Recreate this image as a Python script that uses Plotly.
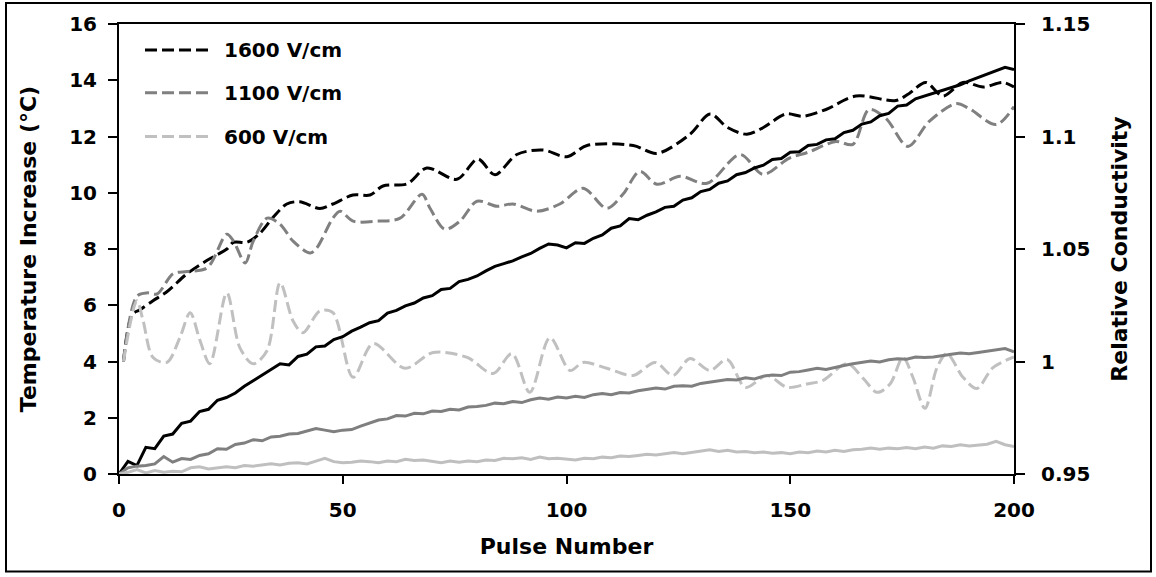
import plotly.graph_objects as go

# ---------------- data ----------------
pulses = list(range(0, 201, 2))

temp_1600 = [0.00, 0.45, 0.30, 0.95, 0.90, 1.35, 1.42, 1.80, 1.88, 2.22,
             2.30, 2.62, 2.72, 2.88, 3.12, 3.32, 3.52, 3.70, 3.92, 3.88,
             4.18, 4.26, 4.52, 4.55, 4.78, 4.88, 5.08, 5.22, 5.38, 5.45,
             5.72, 5.82, 5.98, 6.08, 6.26, 6.34, 6.56, 6.60, 6.84, 6.92,
             7.04, 7.22, 7.38, 7.48, 7.58, 7.72, 7.84, 8.02, 8.18, 8.14,
             8.04, 8.22, 8.20, 8.38, 8.50, 8.74, 8.82, 9.08, 9.04, 9.20,
             9.32, 9.48, 9.52, 9.74, 9.82, 10.04, 10.12, 10.34, 10.42, 10.64,
             10.72, 10.88, 10.98, 11.18, 11.22, 11.44, 11.46, 11.68, 11.72, 11.88,
             11.92, 12.14, 12.22, 12.44, 12.52, 12.74, 12.82, 13.08, 13.12, 13.34,
             13.44, 13.56, 13.64, 13.76, 13.84, 13.98, 14.10, 14.22, 14.34, 14.46,
             14.38]

temp_1100 = [0.00, 0.22, 0.28, 0.30, 0.36, 0.62, 0.42, 0.55, 0.52, 0.66,
             0.72, 0.90, 0.88, 1.05, 1.10, 1.22, 1.18, 1.32, 1.34, 1.42,
             1.44, 1.52, 1.62, 1.56, 1.50, 1.56, 1.58, 1.70, 1.80, 1.92,
             1.96, 2.08, 2.06, 2.16, 2.14, 2.24, 2.22, 2.30, 2.28, 2.38,
             2.40, 2.44, 2.52, 2.50, 2.58, 2.54, 2.64, 2.70, 2.66, 2.74,
             2.70, 2.76, 2.72, 2.82, 2.86, 2.82, 2.90, 2.88, 2.96, 3.00,
             3.06, 3.02, 3.12, 3.14, 3.12, 3.22, 3.26, 3.32, 3.36, 3.34,
             3.42, 3.38, 3.48, 3.52, 3.50, 3.62, 3.64, 3.70, 3.76, 3.72,
             3.80, 3.86, 3.92, 3.96, 4.02, 3.98, 4.06, 4.10, 4.08, 4.16,
             4.14, 4.16, 4.22, 4.26, 4.30, 4.28, 4.32, 4.36, 4.42, 4.46,
             4.34]

temp_600 = [0.00, 0.06, 0.16, 0.04, 0.12, 0.06, 0.10, 0.08, 0.22, 0.26,
            0.18, 0.22, 0.26, 0.22, 0.30, 0.28, 0.32, 0.36, 0.32, 0.38,
            0.40, 0.36, 0.46, 0.56, 0.44, 0.40, 0.42, 0.46, 0.44, 0.40,
            0.46, 0.44, 0.52, 0.48, 0.50, 0.44, 0.40, 0.46, 0.42, 0.46,
            0.44, 0.50, 0.48, 0.56, 0.54, 0.58, 0.52, 0.60, 0.54, 0.56,
            0.52, 0.50, 0.56, 0.54, 0.60, 0.58, 0.64, 0.62, 0.66, 0.70,
            0.68, 0.72, 0.76, 0.72, 0.76, 0.82, 0.86, 0.80, 0.84, 0.78,
            0.80, 0.76, 0.78, 0.74, 0.76, 0.72, 0.78, 0.76, 0.82, 0.78,
            0.84, 0.80, 0.86, 0.88, 0.92, 0.88, 0.92, 0.90, 0.94, 0.90,
            0.96, 0.92, 1.00, 0.98, 1.04, 1.00, 1.02, 1.06, 1.16, 1.04,
            0.98]

cond_1600_x = [1, 3, 4.7, 7.6, 10.7, 15.2, 19.7, 24.1, 25.6, 28.6, 31.5, 34.4,
               37.5, 40.4, 44.9, 47.8, 52.3, 56.1, 59, 64.4, 68.8, 75.5, 80.2,
               84, 88.9, 94.7, 100.1, 104.6, 114.9, 120.2, 127.6, 132.1, 136,
               140.3, 144, 149, 152.8, 158, 164.7, 173.6, 176.5, 180.3, 184.1,
               188.6, 193.1, 197.5, 200]
cond_1600 = [1.000, 1.021, 1.023, 1.027, 1.031, 1.039, 1.045, 1.050, 1.053, 1.053,
             1.057, 1.064, 1.070, 1.071, 1.068, 1.070, 1.074, 1.074, 1.078, 1.079,
             1.086, 1.081, 1.090, 1.083, 1.092, 1.094, 1.091, 1.096, 1.096, 1.0925,
             1.101, 1.110, 1.104, 1.101, 1.104, 1.110, 1.109, 1.112, 1.118, 1.116,
             1.119, 1.124, 1.118, 1.124, 1.122, 1.124, 1.122]

cond_1100_x = [1, 4, 6.3, 8.5, 12.1, 15.2, 19.7, 24.1, 25.6, 28.2, 30, 33.1, 36,
               38.9, 42.7, 44.2, 47.8, 49.4, 52.3, 58, 62.8, 67.7, 69.5, 72.8,
               76.2, 80, 84.5, 88, 93.4, 98.5, 103.7, 109, 112.6, 116.4, 120.2,
               125.4, 131.4, 138.8, 143.9, 149.7, 154, 160.2, 164, 167.6, 171.4,
               176.3, 181, 187, 190, 196, 200]
cond_1100 = [1.000, 1.029, 1.0305, 1.030, 1.039, 1.040, 1.0416, 1.0566, 1.0535,
             1.0438, 1.0535, 1.0637, 1.061, 1.0535, 1.0482, 1.0505, 1.0637, 1.0668,
             1.0624, 1.0624, 1.0637, 1.0743, 1.0681, 1.0588, 1.0624, 1.0712, 1.069,
             1.070, 1.0668, 1.070, 1.077, 1.0681, 1.0743, 1.0845, 1.0788, 1.0823,
             1.0792, 1.092, 1.0832, 1.0903, 1.093, 1.0978, 1.0965, 1.112, 1.108,
             1.0956, 1.1066, 1.1146, 1.1124, 1.1053, 1.1133]

cond_600_x = [1, 4, 5.4, 7.6, 10.7, 13.6, 15.9, 18.1, 20.3, 24.1, 27, 30, 33.1,
              36, 38.9, 41.1, 44.9, 47.8, 52.3, 56.8, 63.9, 70.2, 77.8, 83.6,
              87.8, 91.8, 96.3, 100.8, 103.7, 109, 114.9, 119.8, 123.8, 127.6,
              132, 135.9, 140, 144.8, 149.3, 153.7, 157.3, 162.7, 166.3, 169.4,
              172.3, 175.2, 177.4, 180.1, 182.8, 185, 188.6, 191.7, 195.3, 200]
cond_600 = [1.000, 1.027, 1.018, 1.0018, 0.9996, 1.0106, 1.0217, 1.0093, 0.999,
            1.0305, 1.0062, 0.999, 1.0049, 1.035, 1.018, 1.0128, 1.0225, 1.0217,
            0.993, 1.008, 0.997, 1.004, 1.0018, 0.9947, 1.0035, 0.9863, 1.0106,
            0.996, 0.9996, 0.997, 0.9938, 0.9996, 0.9938, 1.0013, 0.996, 1.0009,
            0.9885, 0.9938, 0.9885, 0.990, 0.9916, 0.999, 0.9925, 0.9863, 0.990,
            1.0018, 0.993, 0.9792, 0.9973, 1.0035, 0.993, 0.988, 0.9973, 1.002]

series_names = ["1600 V/cm", "1100 V/cm", "600 V/cm"]
solid_colors = ["#000000", "#7f7f7f", "#bfbfbf"]
dash_colors = ["#000000", "#808080", "#c0c0c0"]

pulse_ticks = [0, 50, 100, 150, 200]
temp_ticks = [0, 2, 4, 6, 8, 10, 12, 14, 16]
cond_ticks = [0.95, 1.0, 1.05, 1.1, 1.15]
cond_tick_text = ["0.95", "1", "1.05", "1.1", "1.15"]

# ---------------- figure ----------------
FONT = "DejaVu Sans"
W_PLOT, H_PLOT = 895.0, 452.0
L, T, BOTTOM_PX, RIGHT_PX = 119, 22, 474, 1014


def px_x(p):
    return (p - L) / W_PLOT


def px_y(p):
    return (BOTTOM_PX - p) / H_PLOT


fig = go.Figure()

cond_x = [cond_1600_x, cond_1100_x, cond_600_x]
cond_y = [cond_1600, cond_1100, cond_600]
temps = [temp_1600, temp_1100, temp_600]

DASH = "12px,5px"
for i in range(3):
    fig.add_trace(go.Scatter(
        x=cond_x[i], y=cond_y[i], mode="lines", name=series_names[i],
        line=dict(color=dash_colors[i], width=3, dash=DASH,
                  shape="spline", smoothing=0.9),
        yaxis="y", showlegend=False))

for i in range(3):
    fig.add_trace(go.Scatter(
        x=pulses, y=temps[i], mode="lines", name=series_names[i] + " temperature",
        line=dict(color=solid_colors[i], width=3),
        yaxis="y2", showlegend=False))

tickfont = dict(family=FONT, size=20, color="black", weight="bold")
titlefont = dict(family=FONT, size=22, color="black", weight="bold")

fig.update_layout(
    width=1156, height=577,
    margin=dict(l=L, r=1156 - RIGHT_PX, t=T, b=577 - BOTTOM_PX, pad=0),
    paper_bgcolor="white", plot_bgcolor="white",
    showlegend=False,
    xaxis=dict(range=[0, 200], tickvals=pulse_ticks, ticks="outside",
               ticklen=8, tickwidth=2, tickcolor="black", ticklabelstandoff=9,
               showline=True, linecolor="black", linewidth=2, mirror=True,
               showgrid=False, zeroline=False, tickfont=tickfont,
               title=dict(text="Pulse Number", font=titlefont, standoff=18)),
    yaxis=dict(range=[0.95, 1.15], tickvals=cond_ticks, ticktext=cond_tick_text,
               side="right", ticks="outside", ticklen=9, tickwidth=2,
               tickcolor="black", ticklabelstandoff=12,
               showline=True, linecolor="black", linewidth=2,
               showgrid=False, zeroline=False, tickfont=tickfont,
               title=dict(text="Relative Conductivity", font=titlefont, standoff=22)),
    yaxis2=dict(range=[0, 16], tickvals=temp_ticks, side="left", overlaying="y",
                ticks="outside", ticklen=9, tickwidth=2, tickcolor="black",
                ticklabelstandoff=7,
                showline=True, linecolor="black", linewidth=2,
                showgrid=False, zeroline=False, tickfont=tickfont,
                title=dict(text="Temperature Increase (°C)", font=titlefont, standoff=26)),
)

# legend (drawn manually to mimic the long dashed samples)
legend_rows_px = [48, 91, 135]
for i in range(3):
    fig.add_shape(type="line", xref="paper", yref="paper",
                  x0=px_x(145), x1=px_x(213),
                  y0=px_y(legend_rows_px[i]), y1=px_y(legend_rows_px[i]),
                  line=dict(color=dash_colors[i], width=3, dash=DASH))
    fig.add_annotation(xref="paper", yref="paper", x=px_x(222),
                       y=px_y(legend_rows_px[i]), text=series_names[i],
                       showarrow=False, xanchor="left", yanchor="middle",
                       font=dict(family=FONT, size=20, color="black", weight="bold"))

# outer chart border
fig.add_shape(type="rect", xref="paper", yref="paper",
              x0=px_x(6), x1=px_x(1151), y0=px_y(572), y1=px_y(1),
              line=dict(color="black", width=2), fillcolor="rgba(0,0,0,0)",
              layer="below")

fig.write_html("out.html")
